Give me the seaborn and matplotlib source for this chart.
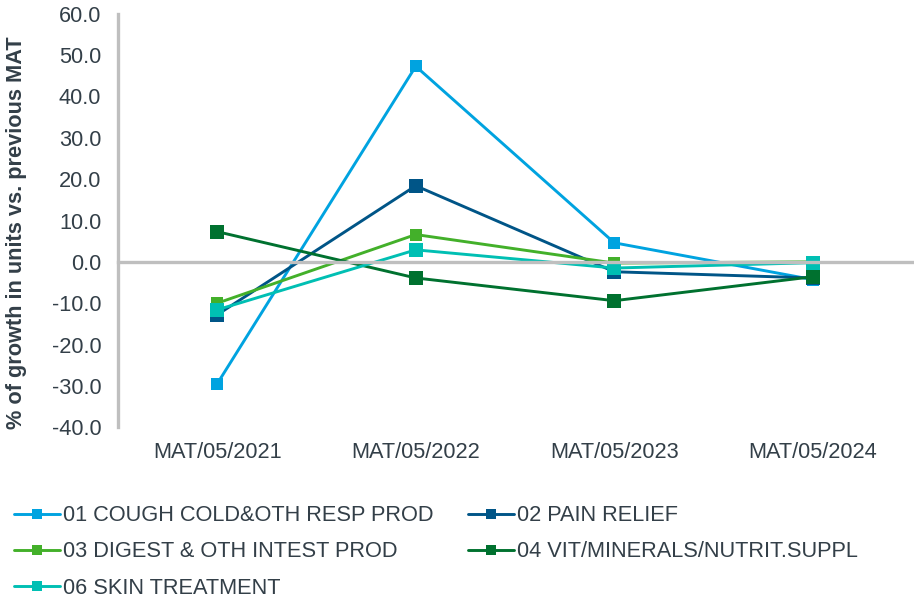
import matplotlib
matplotlib.use("Agg")
import matplotlib.pyplot as plt
from matplotlib.lines import Line2D
import seaborn as sns
import pandas as pd

periods = ["MAT/05/2021", "MAT/05/2022", "MAT/05/2023", "MAT/05/2024"]

cough_cold = [-29.5, 47.3, 4.6, -4.3]
pain_relief = [-12.8, 18.4, -2.4, -3.9]
digestive = [-10.0, 6.6, -0.3, 0.0]
vitamins = [7.3, -3.9, -9.4, -3.6]
skin = [-11.6, 2.9, -1.5, -0.2]

series_names = [
    "01 COUGH COLD&OTH RESP PROD",
    "02 PAIN RELIEF",
    "03 DIGEST & OTH INTEST PROD",
    "04 VIT/MINERALS/NUTRIT.SUPPL",
    "06 SKIN TREATMENT",
]
series_values = [cough_cold, pain_relief, digestive, vitamins, skin]
colors = ["#00A3E0", "#005587", "#43B02A", "#00712F", "#00BFB3"]
marker_sizes = [8, 9.5, 9, 9.5, 9.5]

y_ticks = [-40, -30, -20, -10, 0, 10, 20, 30, 40, 50, 60]

rows = []
for name, vals in zip(series_names, series_values):
    for i, v in enumerate(vals):
        rows.append({"period": i, "label": periods[i], "series": name, "value": v})
df = pd.DataFrame(rows)

sns.set_style("white")
plt.rcParams["font.family"] = ["Liberation Sans", "DejaVu Sans"]

text_color = "#333F48"
axis_grey = "#BFBFBF"
fs = 15.7

fig = plt.figure(figsize=(9.14, 6.0), dpi=100)
ax = fig.add_axes([0.129, 0.288, 0.869, 0.689])

palette = dict(zip(series_names, colors))
sns.lineplot(
    data=df, x="period", y="value", hue="series", hue_order=series_names,
    palette=palette, marker="s", markeredgewidth=0,
    linewidth=2.1, dashes=False, ax=ax, legend=False,
)
for line, ms in zip(ax.lines, marker_sizes):
    line.set_markersize(ms)

ax.set_xlim(-0.5, 3.5)
ax.set_ylim(-40, 60)
ax.set_yticks(y_ticks)
ax.set_yticklabels([f"{t:.1f}" for t in y_ticks])

# left spine
for side in ["top", "right"]:
    ax.spines[side].set_visible(False)
ax.spines["left"].set_color(axis_grey)
ax.spines["left"].set_linewidth(2.4)
ax.tick_params(axis="y", direction="out", length=3, width=2.4, color=axis_grey,
               labelsize=fs, labelcolor=text_color, pad=9)

# category axis drawn through zero with boundary ticks
ax.spines["bottom"].set_position(("data", 0))
ax.spines["bottom"].set_color(axis_grey)
ax.spines["bottom"].set_linewidth(2.4)
ax.set_xticks([0.5, 1.5, 2.5, 3.5])
ax.tick_params(axis="x", direction="out", length=3, width=2.4, color=axis_grey,
               labelbottom=False)

# category labels along the bottom edge
sec = ax.secondary_xaxis("bottom")
sec.set_xticks(range(len(periods)))
sec.set_xticklabels(periods)
sec.spines["bottom"].set_visible(False)
sec.tick_params(axis="x", length=0, pad=11, labelsize=fs, labelcolor=text_color)

ax.set_xlabel("")
ax.set_ylabel("% of growth in units vs. previous MAT", fontsize=fs,
              fontweight="bold", color=text_color, labelpad=18, y=0.47)

handles = [
    Line2D([], [], color=c, lw=2.1, marker="s", markersize=7, markeredgewidth=0)
    for c in colors
]
order = [0, 2, 4, 1, 3]
fig.legend(
    [handles[i] for i in order], [series_names[i] for i in order],
    loc="upper left", bbox_to_anchor=(0.015, 0.158), ncol=2, frameon=False,
    fontsize=fs, labelcolor=text_color, handlelength=2.1, handletextpad=0.15,
    columnspacing=1.6, labelspacing=0.7, borderaxespad=0, borderpad=0,
)

fig.savefig("out.png", dpi=100)
